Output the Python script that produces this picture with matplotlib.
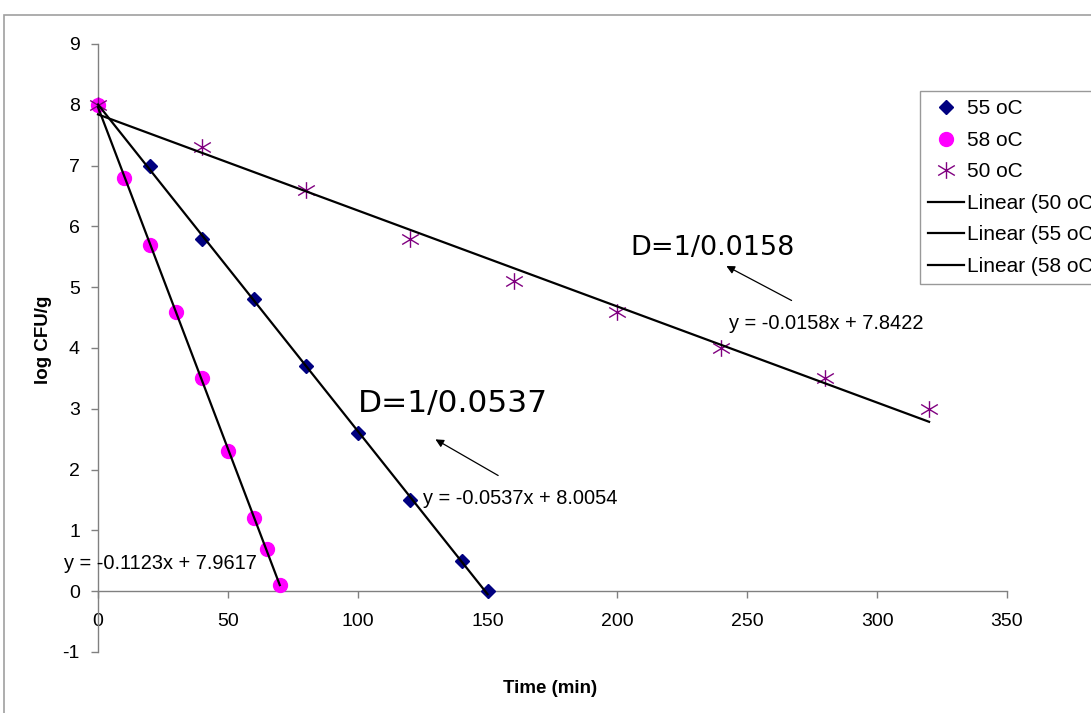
import matplotlib
matplotlib.use('Agg')
import matplotlib.pyplot as plt
from matplotlib.path import Path
from matplotlib.patches import Rectangle
import numpy as np

plt.rcParams['axes.unicode_minus'] = False

# data
time_58 = [0, 10, 20, 30, 40, 50, 60, 65, 70]
logcfu_58 = [8.0, 6.8, 5.7, 4.6, 3.5, 2.3, 1.2, 0.7, 0.1]

time_55 = [0, 20, 40, 60, 80, 100, 120, 140, 150]
logcfu_55 = [8.0, 7.0, 5.8, 4.8, 3.7, 2.6, 1.5, 0.5, 0.0]

time_50 = [0, 40, 80, 120, 160, 200, 240, 280, 320]
logcfu_50 = [8.0, 7.3, 6.6, 5.8, 5.1, 4.6, 4.0, 3.5, 3.0]

# trendline coefficients as printed on the chart
fit_50 = [-0.0158, 7.8422]
fit_55 = [-0.0537, 8.0054]
fit_58 = [-0.1123, 7.9617]

x_ticks = [0, 50, 100, 150, 200, 250, 300, 350]
y_ticks = [-1, 0, 1, 2, 3, 4, 5, 6, 7, 8, 9]

W, H = 1091, 713
fig = plt.figure(figsize=(W / 100, H / 100), dpi=100)
ax = fig.add_axes([98 / W, 61 / H, (1007 - 98) / W, (652 - 44) / H])

# Excel style asterisk marker
star = Path([(-1, -0.6), (1, 0.6), (-1, 0.6), (1, -0.6), (0, -1), (0, 1)],
            [Path.MOVETO, Path.LINETO, Path.MOVETO, Path.LINETO, Path.MOVETO, Path.LINETO])

ax.plot(time_55, logcfu_55, linestyle='none', marker='D', markersize=7.5,
        color='#000080', label='55 oC', clip_on=False, zorder=3)
ax.plot(time_58, logcfu_58, linestyle='none', marker='o', markersize=10,
        color='#FF00FF', label='58 oC', clip_on=False, zorder=3)
ax.plot(time_50, logcfu_50, linestyle='none', marker=star, markersize=12,
        markeredgewidth=1.0, color='#800080', label='50 oC', clip_on=False, zorder=3)

for name, t, fit in [('50 oC', time_50, fit_50), ('55 oC', time_55, fit_55), ('58 oC', time_58, fit_58)]:
    xs = np.array([min(t), max(t)])
    ax.plot(xs, fit[0] * xs + fit[1], color='black', linewidth=1.6,
            label=f'Linear ({name})', clip_on=False, zorder=4)

ax.set_xlim(0, 350)
ax.set_ylim(-1, 9)
ax.set_xticks(x_ticks)
ax.set_yticks(y_ticks)

for s in ['top', 'right']:
    ax.spines[s].set_visible(False)
ax.spines['bottom'].set_position(('data', 0))
for s in ['left', 'bottom']:
    ax.spines[s].set_color('#808080')
    ax.spines[s].set_linewidth(1)
ax.tick_params(direction='out', length=5, color='#808080', width=1, labelsize=14)
ax.tick_params(axis='x', pad=11)
ax.tick_params(axis='y', pad=8)
for lab in ax.get_xticklabels() + ax.get_yticklabels():
    lab.set_family(['Liberation Sans', 'DejaVu Sans'])

ax.set_xlabel('Time (min)', fontsize=13.5, fontweight='bold', family='Liberation Sans')
ax.xaxis.set_label_coords(0.497, -0.046)
ax.set_ylabel('log CFU/g', fontsize=13.5, fontweight='bold', family='Liberation Sans')
ax.yaxis.set_label_coords(-0.051, 0.513)

# trendline equations
eq_font = dict(fontsize=14.4, family='Liberation Sans', va='center')
ax.text(243, 4.4, 'y = -0.0158x + 7.8422', **eq_font)
ax.text(125, 1.53, 'y = -0.0537x + 8.0054', **eq_font)
ax.text(-13, 0.45, 'y = -0.1123x + 7.9617', **eq_font)

# D values with arrows
ax.text(205, 5.65, 'D=1/0.0158', fontsize=19.5, va='center')
ax.text(100, 3.08, 'D=1/0.0537', fontsize=22.5, va='center')
ax.annotate('', xy=(241, 5.37), xytext=(268, 4.76),
            arrowprops=dict(arrowstyle='-|>', color='black', lw=0.9, mutation_scale=12))
ax.annotate('', xy=(129, 2.52), xytext=(155, 1.88),
            arrowprops=dict(arrowstyle='-|>', color='black', lw=0.9, mutation_scale=12))

leg = ax.legend(loc='upper left', bbox_to_anchor=(920 / W, 1 - 91 / H),
                bbox_transform=fig.transFigure, borderaxespad=0, fancybox=False,
                edgecolor='#808080', prop={'family': 'Liberation Sans', 'size': 15},
                handlelength=1.7, handletextpad=0.15, labelspacing=0.6, borderpad=0.4)
leg.get_frame().set_linewidth(1)

# outer chart area border
fig.patches.append(Rectangle((4 / W, -0.1), 1.2, 1.1 - 15 / H, transform=fig.transFigure,
                             fill=False, edgecolor='#A0A0A0', linewidth=1.2))

fig.savefig('out.png', dpi=100)
